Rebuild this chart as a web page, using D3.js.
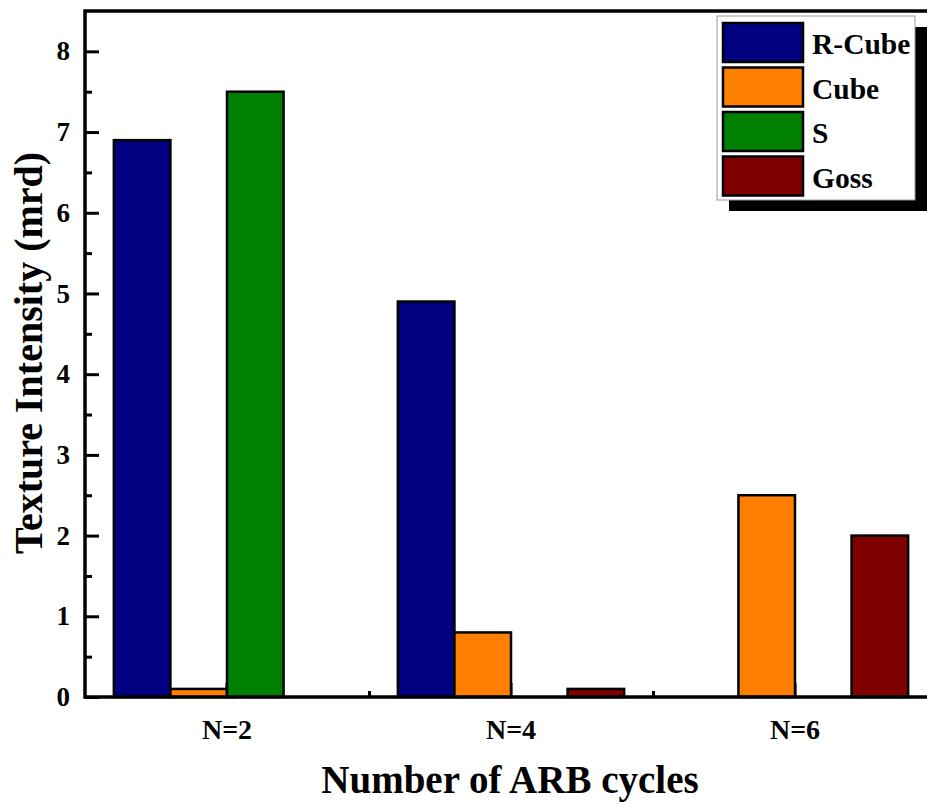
<!DOCTYPE html>
<html>
<head>
<meta charset="utf-8">
<script src="https://cdn.jsdelivr.net/npm/d3@7"></script>
<style>
  body { margin: 0; background: #fff; }
  text { font-family: "Liberation Serif", "Times New Roman", serif; font-weight: bold; fill: #000; }
</style>
</head>
<body>
<div id="chart-container"></div>
<script>
// Data
const cycles = ["N=2", "N=4", "N=6"];
const textures = ["R-Cube", "Cube", "S", "Goss"];
const colors = ["#000080", "#ff8000", "#008000", "#800000"];
const rCube = [6.9, 4.9, 0];
const cube = [0.1, 0.8, 2.5];
const sTex = [7.5, 0, 0];
const goss = [0, 0.1, 2.0];
const yMajorTicks = [0, 1, 2, 3, 4, 5, 6, 7, 8];
const yMinorTicks = [0.5, 1.5, 2.5, 3.5, 4.5, 5.5, 6.5, 7.5];

const seriesValues = [rCube, cube, sTex, goss];

// Build rows for the bars
const rows = [];
cycles.forEach((c, i) => {
  textures.forEach((t, j) => {
    rows.push({ cycle: c, texture: t, value: seriesValues[j][i], color: colors[j] });
  });
});

// Set dimensions (right spine falls off the picture, like the original)
const W = 927, H = 804;
const plot = { left: 85, right: 937, top: 11, bottom: 697 };

const svg = d3.select("#chart-container")
  .append("svg")
  .attr("width", W)
  .attr("height", H)
  .style("display", "block")
  .style("overflow", "hidden");

// Scales
const x = d3.scaleBand().domain(cycles).range([plot.left, plot.right]).padding(0);
const xInner = d3.scaleBand().domain(textures).range([0, x.bandwidth()]).paddingOuter(0.51).paddingInner(0);
const y = d3.scaleLinear().domain([0, 8.5]).range([plot.bottom, plot.top]);

// X axis ticks: major at group centres (under bars), minor at group boundaries
const xAxis = svg.append("g")
  .attr("transform", `translate(0,${plot.bottom})`)
  .call(d3.axisBottom(x).tickSize(-14).tickPadding(22));
xAxis.select(".domain").remove();
xAxis.selectAll("line").attr("stroke", "#000").attr("stroke-width", 3);
xAxis.selectAll("text")
  .attr("font-size", 28)
  .attr("font-family", "Liberation Serif, serif")
  .attr("font-weight", "bold")
  .attr("dy", "0.71em")
  .attr("fill", "#000");

const xMinor = svg.append("g")
  .attr("transform", `translate(0,${plot.bottom})`)
  .call(d3.axisBottom(d3.scaleLinear().domain([0, 3]).range([plot.left, plot.right]))
    .tickValues([1, 2]).tickSize(-6).tickFormat(""));
xMinor.select(".domain").remove();
xMinor.selectAll("line").attr("stroke", "#000").attr("stroke-width", 3);

// Bars
svg.append("g")
  .selectAll("rect")
  .data(rows)
  .enter().append("rect")
  .attr("x", d => x(d.cycle) + xInner(d.texture))
  .attr("y", d => y(d.value))
  .attr("width", xInner.bandwidth())
  .attr("height", d => y(0) - y(d.value))
  .attr("fill", d => d.color)
  .attr("stroke", "#000")
  .attr("stroke-width", 2.5)
  .attr("visibility", d => d.value > 0 ? "visible" : "hidden");

// Y axis
const yAxis = svg.append("g")
  .attr("transform", `translate(${plot.left},0)`)
  .call(d3.axisLeft(y).tickValues(yMajorTicks).tickSize(-14).tickPadding(15).tickFormat(d3.format("d")));
yAxis.select(".domain").remove();
yAxis.selectAll("line").attr("stroke", "#000").attr("stroke-width", 3);
yAxis.selectAll("text")
  .attr("font-size", 27)
  .attr("font-family", "Liberation Serif, serif")
  .attr("font-weight", "bold")
  .attr("fill", "#000");

const yMinor = svg.append("g")
  .attr("transform", `translate(${plot.left},0)`)
  .call(d3.axisLeft(y).tickValues(yMinorTicks).tickSize(-7).tickFormat(""));
yMinor.select(".domain").remove();
yMinor.selectAll("line").attr("stroke", "#000").attr("stroke-width", 3);

// Frame
svg.append("rect")
  .attr("x", plot.left)
  .attr("y", plot.top)
  .attr("width", plot.right - plot.left)
  .attr("height", plot.bottom - plot.top)
  .attr("fill", "none")
  .attr("stroke", "#000")
  .attr("stroke-width", 3.5);

// Axis titles
svg.append("text")
  .attr("x", 510)
  .attr("y", 793)
  .attr("text-anchor", "middle")
  .attr("font-size", 39)
  .text("Number of ARB cycles");

svg.append("text")
  .attr("transform", `translate(42,353) rotate(-90)`)
  .attr("text-anchor", "middle")
  .attr("font-size", 40)
  .text("Texture Intensity (mrd)");

// Legend with drop shadow
const legend = svg.append("g").attr("transform", "translate(717,16)");
legend.append("rect")
  .attr("x", 12).attr("y", 11)
  .attr("width", 198).attr("height", 184)
  .attr("fill", "#000");
legend.append("rect")
  .attr("width", 198).attr("height", 184)
  .attr("fill", "#fff")
  .attr("stroke", "#9a9a9a")
  .attr("stroke-width", 1);

const item = legend.selectAll("g.item")
  .data(textures)
  .enter().append("g")
  .attr("class", "item")
  .attr("transform", (d, i) => `translate(6,${7 + i * 44.5})`);
item.append("rect")
  .attr("width", 80).attr("height", 39)
  .attr("fill", (d, i) => colors[i])
  .attr("stroke", "#000")
  .attr("stroke-width", 2.5);
item.append("text")
  .attr("x", 89)
  .attr("y", 31)
  .attr("font-size", 29.5)
  .text(d => d);
</script>
</body>
</html>
